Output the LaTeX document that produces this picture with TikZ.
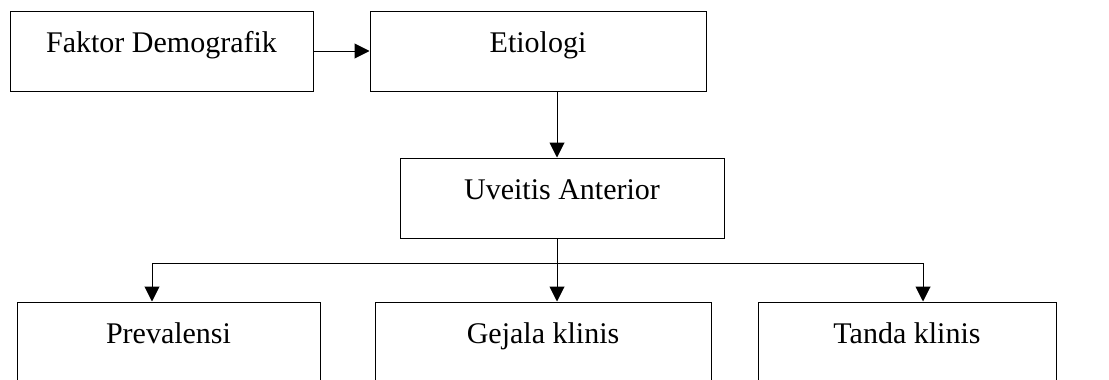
\documentclass[tikz,border=0pt]{standalone}
\usepackage{fontspec}
\setmainfont{Liberation Serif}
\usetikzlibrary{arrows.meta}

\begin{document}
\begin{tikzpicture}[
        x=1pt,y=-1pt,
        box/.style={draw,line width=1pt,inner xsep=0pt,inner ysep=0pt,
            text height=41pt,text depth=39pt,font=\fontsize{30}{36}\selectfont},
        arr/.style={-{Triangle[length=15pt,width=15pt]},line width=1pt},
        link/.style={line width=1pt},
    ]
    \useasboundingbox (0,0) rectangle (1109,380);
    \clip (0,0) rectangle (1109,380);
    % top row
    \node[box,minimum width=303pt] (faktor) at (161.5,51) {Faktor Demografik};
    \node[box,minimum width=336pt] (etiologi) at (538,51) {Etiologi};
    \node[box,minimum width=324pt] (uveitis) at (562,198) {Uveitis Anterior};
    % bottom row
    \node[box,minimum width=303pt] (prevalensi) at (168.5,342) {Prevalensi};
    \node[box,minimum width=336pt] (gejala) at (543,342) {Gejala klinis};
    \node[box,minimum width=298pt] (tanda) at (907,342) {Tanda klinis};
    % branch points
    \coordinate (trunk) at (557,263);
    \coordinate (left) at (152,263);
    \coordinate (right) at (923,263);

    \draw[arr] (faktor.east) -- (etiologi.west);
    \draw[arr] (etiologi.south -| trunk) -- (uveitis.north -| trunk);
    \draw[arr] (uveitis.south -| trunk) -- (gejala.north -| trunk);
    \draw[arr] (trunk) -- (left) -- (prevalensi.north -| left);
    \draw[arr] (trunk) -- (right) -- (tanda.north -| right);
\end{tikzpicture}
\end{document}
